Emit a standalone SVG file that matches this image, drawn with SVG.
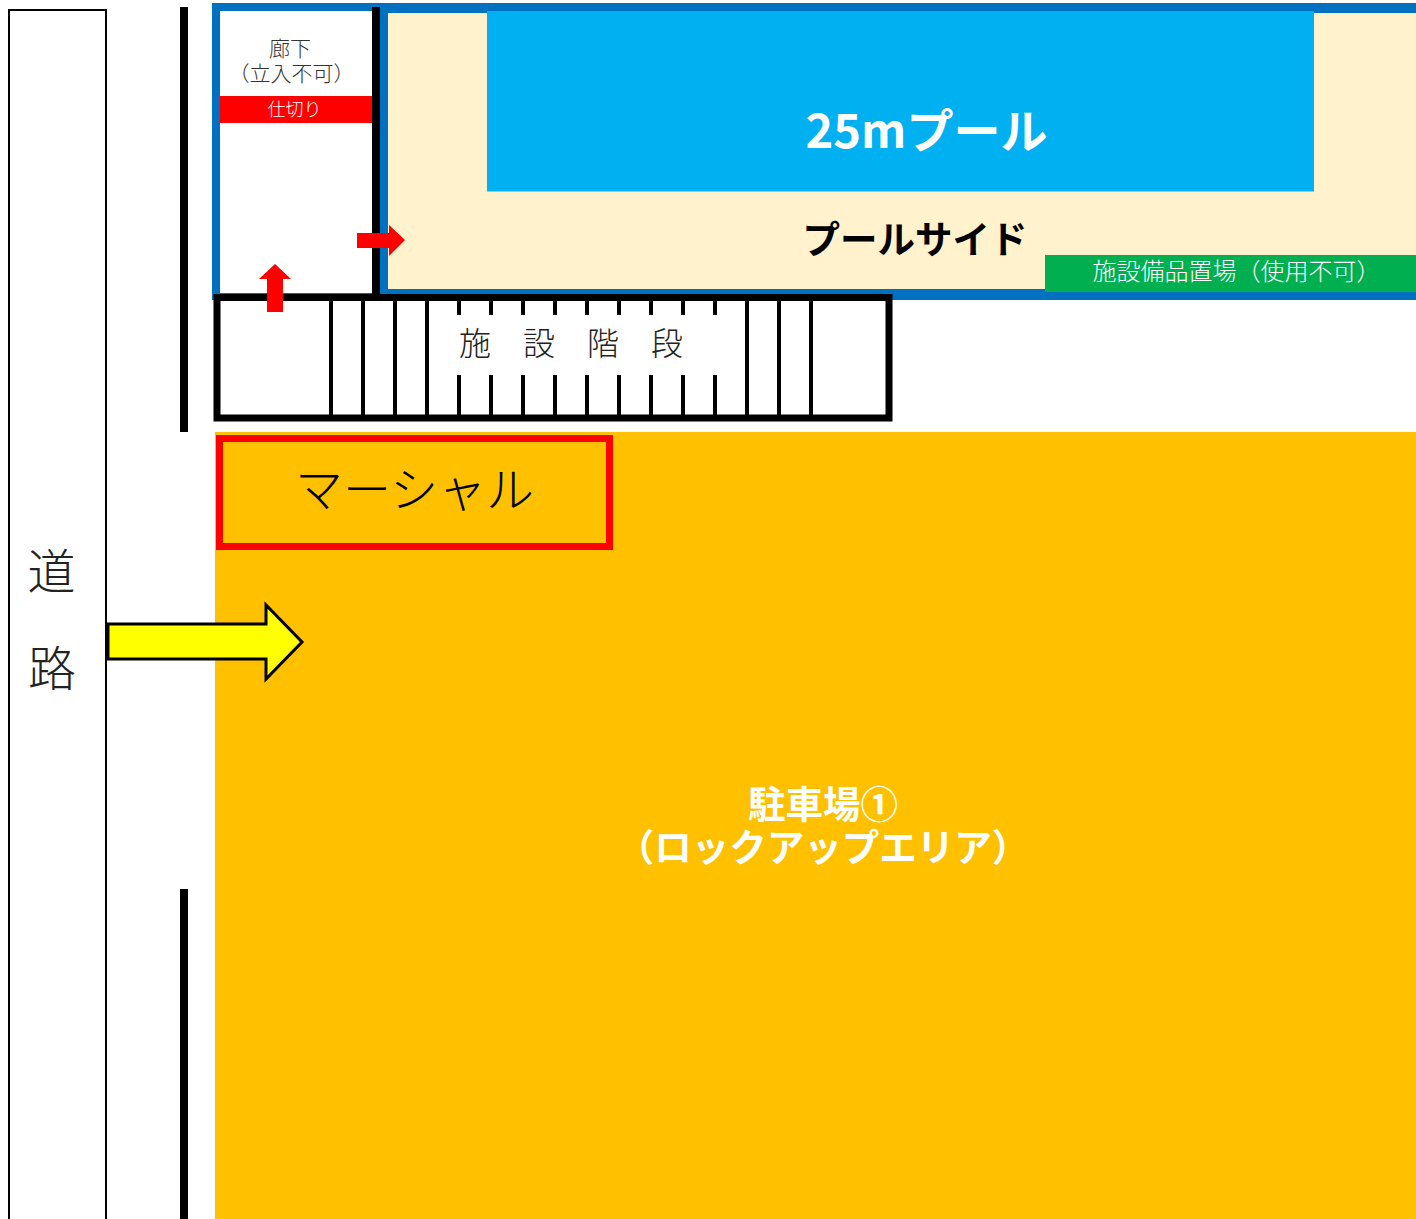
<svg xmlns="http://www.w3.org/2000/svg" width="1416" height="1219" viewBox="0 0 1416 1219">
<style>
text{font-family:"Noto Sans CJK JP","Noto Sans",sans-serif;text-anchor:middle}
.l{font-weight:300}
.b{font-weight:700}
.step{stroke:#000;stroke-width:4;fill:none}
.wall{fill:#000}
</style>
<rect width="1416" height="1219" fill="#fff"/>
<g id="road"><rect x="9" y="10" width="97" height="1230" fill="#fff" stroke="#000" stroke-width="2"/>
<text class="l" x="51.500" y="589" font-size="48" fill="#222">道</text>
<text class="l" x="52" y="686" font-size="48" fill="#222">路</text></g>
<g id="walls"><rect class="wall" x="180" y="7" width="8" height="425"/><rect class="wall" x="180" y="889" width="8" height="330"/></g>
<g id="building"><rect x="212" y="3" width="1204" height="297" fill="#0070c0"/>
<rect x="220" y="11" width="152" height="282" fill="#fff"/>
<rect x="388" y="13" width="1028" height="276" fill="#fff2cc"/></g>
<g id="pool"><rect x="487" y="11" width="827" height="180.500" fill="#00b0f0"/>
<text class="b" x="926.500" y="148" font-size="47" fill="#fff">25mプール</text></g>
<g id="poolside"><text class="b" x="915" y="253" font-size="37.500" fill="#000">プールサイド</text></g>
<g id="storage"><rect x="1045" y="255" width="371" height="37" fill="#00b050"/>
<text class="l" x="1236.500" y="280" font-size="24" fill="#fff">施設備品置場（使用不可）</text></g>
<g id="corridor"><text class="l" font-size="21" fill="#333"><tspan x="290" y="55.500">廊下</tspan><tspan x="291.500" y="81">（立入不可）</tspan></text></g>
<g id="partition"><rect x="220" y="96" width="152" height="27" fill="#f00"/>
<text class="l" x="294.500" y="116" font-size="18" fill="#fff">仕切り</text></g>
<rect id="divider" class="wall" x="372" y="7" width="8" height="288"/>
<g id="stairs"><rect x="217" y="297.500" width="672" height="120.500" fill="#fff" stroke="#000" stroke-width="7"/>
<path class="step" d="M331 297V419M363 297V419M395 297V419M427 297V419M747 297V419M779 297V419M811 297V419M459 297V315M491 297V315M523 297V315M555 297V315M587 297V315M619 297V315M651 297V315M683 297V315M715 297V315M459 375V419M491 375V419M523 375V419M555 375V419M587 375V419M619 375V419M651 375V419M683 375V419M715 375V419"/>
<text class="l" x="475" y="355" font-size="32" fill="#222">施</text><text class="l" x="539" y="355" font-size="32" fill="#222">設</text><text class="l" x="603" y="355" font-size="32" fill="#222">階</text><text class="l" x="667" y="355" font-size="32" fill="#222">段</text></g>
<g id="parking"><rect x="215" y="432" width="1201" height="787" fill="#ffc000"/>
<text class="b" font-size="37.500" fill="#fff"><tspan x="823" y="818">駐車場①</tspan><tspan x="823" y="861">（ロックアップエリア）</tspan></text></g>
<g id="marshal"><rect x="219.500" y="438.500" width="390" height="108" fill="none" stroke="#f00" stroke-width="7"/>
<text class="l" x="414.500" y="507" font-size="48" fill="#000">マーシャル</text></g>
<g id="connectors">
<polygon points="108,624 266,624 266,605 302,642 266,679 266,659 108,659" fill="#ff0" stroke="#000" stroke-width="3"/>
<polygon points="267,312 267,279 259,279 275,264 291,279 283,279 283,312" fill="#f00"/>
<polygon points="357,233 389,233 389,225 405,240 389,256 389,248 357,248" fill="#f00"/>
</g>
</svg>
